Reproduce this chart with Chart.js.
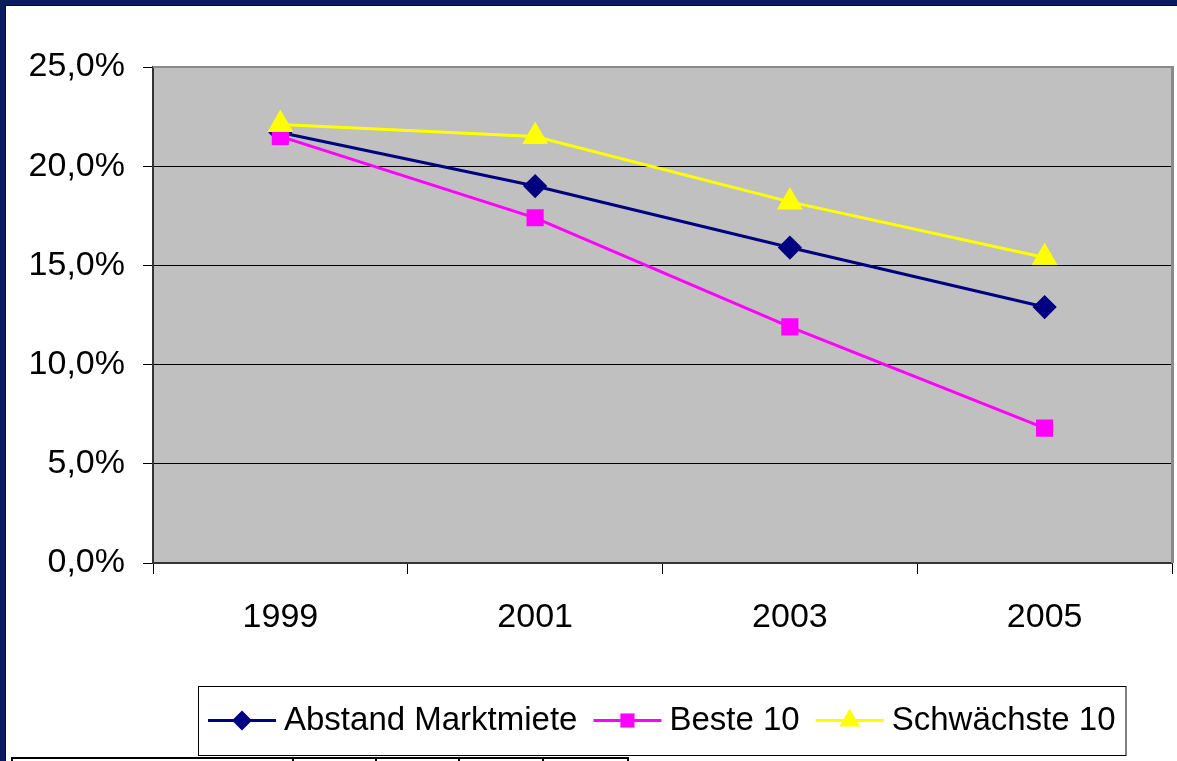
<!DOCTYPE html>
<html>
<head>
<meta charset="utf-8">
<script src="https://cdn.jsdelivr.net/npm/chart.js@4/dist/chart.umd.min.js"></script>
<style>
  html, body { margin: 0; padding: 0; background: #ffffff; }
  #wrap { position: relative; width: 1177px; height: 761px; }
</style>
</head>
<body>
<div id="wrap"><canvas id="mietChart" width="1177" height="761"></canvas></div>
<script>
  // Daten
  var jahre = ['1999', '2001', '2003', '2005'];
  var abstandMarktmiete = [21.7, 19.0, 15.9, 12.9];
  var beste10 = [21.5, 17.4, 11.9, 6.8];
  var schwaechste10 = [22.1, 21.5, 18.2, 15.4];
  var serienNamen = ['Abstand Marktmiete', 'Beste 10', 'Schwächste 10'];

  var schrift = "'Liberation Sans', Arial, sans-serif";
  var navy = '#000080', magenta = '#ff00ff', gelb = '#ffff00';

  function prozent(v) {
    return v.toFixed(1).replace('.', ',') + '%';
  }

  // Rahmen, grauer Plotbereich, Tabellenrest unten
  var hintergrund = {
    id: 'hintergrund',
    beforeDraw: function (chart) {
      var ctx = chart.ctx, a = chart.chartArea;
      ctx.save();
      ctx.fillStyle = '#ffffff';
      ctx.fillRect(0, 0, chart.width, chart.height);
      ctx.fillStyle = '#0b1c5a';
      ctx.fillRect(0, 0, chart.width, 5);
      ctx.fillRect(0, 0, 5, chart.height);
      ctx.fillStyle = '#111111';
      ctx.fillRect(5, 5, chart.width - 5, 1);
      ctx.fillRect(5, 5, 1, chart.height - 5);
      ctx.fillStyle = '#c0c0c0';
      ctx.fillRect(a.left, a.top, a.right - a.left, a.bottom - a.top);

      // abgeschnittene Tabelle unten links
      ctx.strokeStyle = '#000000';
      ctx.lineWidth = 2;
      ctx.strokeRect(12, 758, 616, 20);
      [293, 376, 459, 543].forEach(function (x) {
        ctx.beginPath();
        ctx.moveTo(x, 758);
        ctx.lineTo(x, 761);
        ctx.stroke();
      });
      ctx.restore();
    },
    beforeDatasetsDraw: function (chart) {
      var ctx = chart.ctx, a = chart.chartArea;
      ctx.save();
      ctx.fillStyle = '#8a8a8a';
      ctx.fillRect(a.left, a.top - 1, a.right - a.left + 2, 2);
      ctx.fillRect(a.right - 1, a.top - 1, 3, a.bottom - a.top + 1);
      ctx.restore();
    }
  };

  // Legende im Excel-Stil: Linie mit Marker
  var legende = {
    id: 'legende',
    afterDraw: function (chart) {
      var ctx = chart.ctx;
      var linie = 68, abst1 = 8, abst2 = 16, rand = 10;
      ctx.save();
      ctx.font = '33px ' + schrift;
      var breite = rand * 2;
      chart.data.datasets.forEach(function (ds, i) {
        breite += linie + abst1 + ctx.measureText(ds.label).width;
        if (i < chart.data.datasets.length - 1) breite += abst2;
      });
      var cx = 662, top = 686, hoehe = 69;
      var x = Math.round(cx - breite / 2), y = top + hoehe / 2;
      ctx.fillStyle = '#ffffff';
      ctx.fillRect(x, top, breite, hoehe);
      ctx.strokeStyle = '#000000';
      ctx.lineWidth = 1;
      ctx.strokeRect(x + 0.5, top + 0.5, breite, hoehe);
      x += rand;
      chart.data.datasets.forEach(function (ds) {
        ctx.strokeStyle = ds.borderColor;
        ctx.lineWidth = 3;
        ctx.beginPath();
        ctx.moveTo(x, y);
        ctx.lineTo(x + linie, y);
        ctx.stroke();
        ctx.fillStyle = ds.pointBackgroundColor;
        ctx.strokeStyle = ds.pointBorderColor;
        Chart.helpers.drawPoint(ctx, {
          pointStyle: ds.pointStyle,
          radius: ds.pointRadius,
          rotation: 0,
          borderWidth: 0
        }, x + linie / 2, y);
        x += linie + abst1;
        ctx.fillStyle = '#000000';
        ctx.textBaseline = 'middle';
        ctx.textAlign = 'left';
        ctx.fillText(ds.label, x, y);
        x += ctx.measureText(ds.label).width + abst2;
      });
      ctx.restore();
    }
  };

  var ctx = document.getElementById('mietChart').getContext('2d');
  window.mietChart = new Chart(ctx, {
    type: 'line',
    data: {
      labels: jahre,
      datasets: [
        {
          label: serienNamen[0],
          data: abstandMarktmiete,
          borderColor: navy,
          backgroundColor: navy,
          pointBackgroundColor: navy,
          pointBorderColor: navy,
          pointStyle: 'rectRot',
          pointRadius: 10,
          borderWidth: 3,
          order: 3
        },
        {
          label: serienNamen[1],
          data: beste10,
          borderColor: magenta,
          backgroundColor: magenta,
          pointBackgroundColor: magenta,
          pointBorderColor: magenta,
          pointStyle: 'rect',
          pointRadius: 10,
          borderWidth: 3,
          order: 2
        },
        {
          label: serienNamen[2],
          data: schwaechste10,
          borderColor: gelb,
          backgroundColor: gelb,
          pointBackgroundColor: gelb,
          pointBorderColor: gelb,
          pointStyle: 'triangle',
          pointRadius: 12,
          borderWidth: 3,
          order: 1
        }
      ]
    },
    options: {
      responsive: false,
      animation: false,
      layout: { autoPadding: false, padding: { top: 67, right: 5, bottom: 0, left: 0 } },
      elements: {
        line: { tension: 0 },
        point: { borderWidth: 0, hoverRadius: 10 }
      },
      plugins: {
        legend: { display: false },
        tooltip: { enabled: false }
      },
      scales: {
        x: {
          offset: true,
          grid: {
            offset: true,
            drawOnChartArea: false,
            drawTicks: true,
            tickLength: 11,
            color: '#000000'
          },
          border: { display: true, color: '#333333', width: 2 },
          ticks: {
            color: '#000000',
            padding: 23,
            font: { family: schrift, size: 34 },
            maxRotation: 0
          },
          afterFit: function (scale) { scale.height = 761 - 563; }
        },
        y: {
          min: 0,
          max: 25,
          grid: {
            color: '#000000',
            lineWidth: 1,
            tickLength: 10,
            drawTicks: true
          },
          border: { display: true, color: '#333333', width: 2 },
          ticks: {
            stepSize: 5,
            color: '#000000',
            padding: 18,
            font: { family: schrift, size: 34 },
            callback: function (v) { return prozent(v); }
          },
          afterFit: function (scale) { scale.width = 153; }
        }
      }
    },
    plugins: [hintergrund, legende]
  });
</script>
</body>
</html>
